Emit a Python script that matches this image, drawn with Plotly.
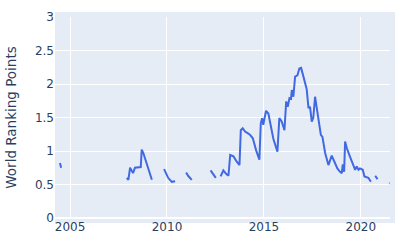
import plotly.graph_objects as go

dates = [
    "2004-06-25", "2004-07-16", "2007-06-01",
    "2007-12-06", "2008-01-04", "2008-02-06", "2008-04-01", "2008-05-08", "2008-07-05",
    "2008-08-25", "2008-09-12", "2008-10-12", "2009-03-22", "2009-07-01",
    "2009-11-07", "2010-01-23", "2010-04-02", "2010-06-03", "2010-09-01",
    "2010-12-28", "2011-02-03", "2011-04-13", "2011-11-01",
    "2012-04-01", "2012-07-09", "2012-08-20",
    "2012-10-08", "2012-11-28", "2013-01-19", "2013-03-04", "2013-04-06", "2013-06-07",
    "2013-08-08", "2013-09-28", "2013-10-23", "2013-11-28", "2014-01-11", "2014-02-14",
    "2014-03-14", "2014-04-16", "2014-06-06", "2014-08-08", "2014-10-08", "2014-11-03",
    "2014-11-28", "2014-12-20", "2015-02-10", "2015-03-26", "2015-05-12", "2015-06-29",
    "2015-09-13", "2015-10-19", "2015-12-02", "2016-01-23", "2016-02-25", "2016-03-25",
    "2016-04-27", "2016-05-26", "2016-06-10", "2016-07-09", "2016-08-11", "2016-09-24",
    "2016-10-30", "2016-12-02", "2017-01-15", "2017-03-18", "2017-04-20", "2017-05-19",
    "2017-06-21", "2017-07-20", "2017-08-22", "2017-09-20", "2017-10-23", "2017-12-09",
    "2018-01-08", "2018-02-28", "2018-05-01", "2018-07-02", "2018-08-22", "2018-10-16",
    "2018-12-06", "2019-01-08", "2019-01-26", "2019-02-21", "2019-03-11", "2019-04-13",
    "2019-06-14", "2019-08-15", "2019-09-17", "2019-10-16", "2019-11-18", "2019-12-17",
    "2020-02-06", "2020-03-10", "2020-05-22", "2020-07-09", "2020-08-20",
    "2020-09-28", "2020-11-10", "2021-03-01",
    "2021-06-22", "2021-07-02",
]
points = [
    0.82, 0.75, None,
    0.60, 0.57, 0.75, 0.67, 0.75, 0.75,
    0.76, 1.02, 0.97, 0.57, None,
    0.73, 0.60, 0.54, 0.55, None,
    0.68, 0.63, 0.57, None,
    0.71, 0.60, None,
    0.62, 0.71, 0.66, 0.63, 0.94, 0.92,
    0.84, 0.79, 1.31, 1.34, 1.29, 1.28,
    1.26, 1.24, 1.19, 1.01, 0.87, 1.41,
    1.49, 1.39, 1.60, 1.56, 1.39, 1.18,
    0.99, 1.49, 1.44, 1.31, 1.74, 1.66,
    1.79, 1.78, 1.91, 1.81, 2.11, 2.13,
    2.23, 2.24, 2.11, 1.92, 1.64, 1.66,
    1.44, 1.50, 1.81, 1.66, 1.46, 1.24,
    1.21, 0.97, 0.79, 0.93, 0.84, 0.74,
    0.69, 0.67, 0.80, 0.69, 1.14, 1.04,
    0.91, 0.79, 0.72, 0.77, 0.72, 0.74,
    0.72, 0.62, 0.60, 0.54, None,
    0.63, 0.58, None,
    0.52, 0.52,
]
x_ticks = ["2005-01-01", "2010-01-01", "2015-01-01", "2020-01-01"]
x_tick_text = ["2005", "2010", "2015", "2020"]
y_ticks = [0, 0.5, 1, 1.5, 2, 2.5, 3]
y_tick_text = ["0", "0.5", "1", "1.5", "2", "2.5", "3"]

BG = "#E5ECF6"
fig = go.Figure()
fig.add_trace(go.Scatter(
    x=dates, y=points, mode="lines", connectgaps=False,
    line=dict(color="royalblue", width=2), showlegend=False,
))
fig.update_layout(
    width=400, height=250,
    margin=dict(l=55, r=10, t=17, b=32),
    paper_bgcolor="white", plot_bgcolor=BG,
    font=dict(family="DejaVu Sans, sans-serif", color="#2a3f5f", size=12),
    shapes=[dict(type="rect", xref="paper", yref="paper",
                 x0=0, x1=1 + 5 / 335, y0=-5 / 201, y1=1 + 5 / 201,
                 fillcolor=BG, line=dict(width=0), layer="below")],
)
fig.update_xaxes(
    type="date", range=["2004-03-23", "2021-07-04"],
    tickvals=x_ticks, ticktext=x_tick_text,
    showgrid=True, gridcolor="white", gridwidth=1, zeroline=False,
)
fig.update_yaxes(
    range=[0, 3], tickvals=y_ticks, ticktext=y_tick_text,
    showgrid=True, gridcolor="white", gridwidth=1,
    zeroline=True, zerolinecolor="white", zerolinewidth=2,
    title=dict(text="World Ranking Points", font=dict(size=13.5)),
)
fig.write_html("out.html")
